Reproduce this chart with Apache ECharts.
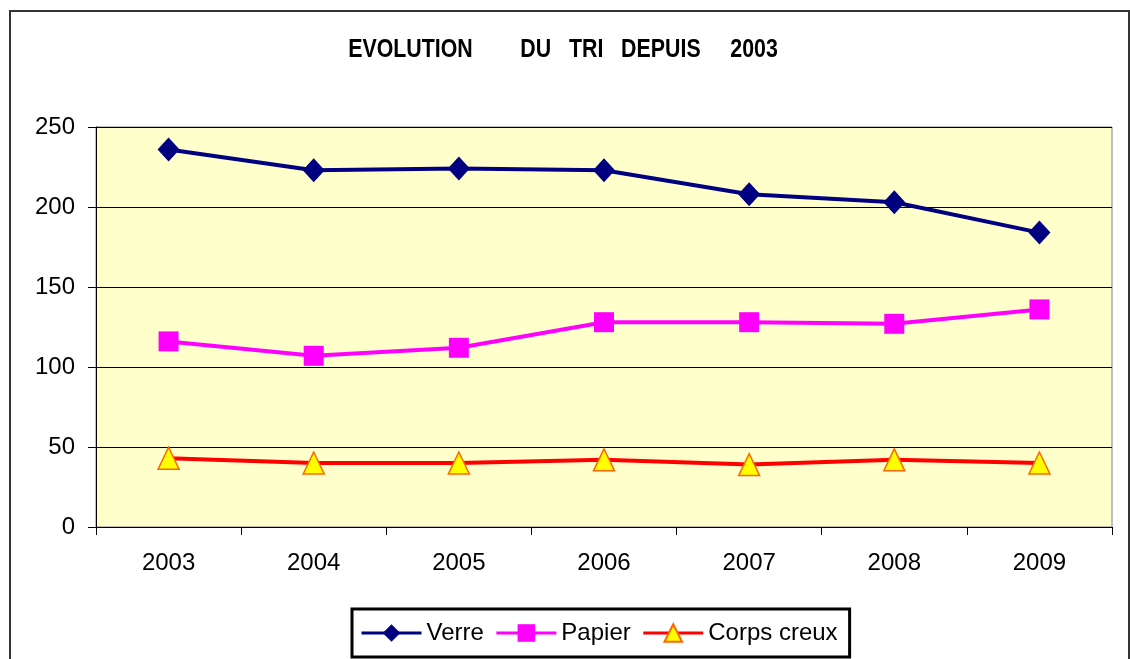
<!DOCTYPE html>
<html>
<head>
<meta charset="utf-8">
<script src="https://cdn.jsdelivr.net/npm/echarts@6/dist/echarts.min.js"></script>
<style>
html, body { margin: 0; padding: 0; background: #fff; }
#chart { width: 1130px; height: 659px; }
</style>
</head>
<body>
<div id="chart"></div>
<script>
var chart = echarts.init(document.getElementById("chart"));

var years = ['2003', '2004', '2005', '2006', '2007', '2008', '2009'];
var verre = [236, 223, 224, 223, 208, 203, 184];
var papier = [116, 107, 112, 128, 128, 127, 136];
var corpsCreux = [43, 40, 40, 42, 39, 42, 40];

var font = 'Liberation Sans, Arial, sans-serif';
var titre = 'EVOLUTION        DU   TRI   DEPUIS     2003';

var option = {
    backgroundColor: '#fff',
    animation: false,
    graphic: [
        {
            // cadre exterieur
            type: 'rect',
            shape: {x: 10, y: 11, width: 1119, height: 700},
            style: {fill: null, stroke: '#333', lineWidth: 2},
            silent: true,
            z: -1
        },
        {
            // titre (police etroite simulee)
            type: 'text',
            x: 563,
            y: 50,
            scaleX: 0.89,
            scaleY: 1.05,
            style: {
                text: titre,
                fontFamily: font,
                fontWeight: 'bold',
                fontSize: 24,
                fill: '#000',
                align: 'center',
                verticalAlign: 'middle'
            }
        }
    ],
    legend: {
        left: 352,
        top: 609,
        padding: [12, 12, 12, 8],
        borderColor: '#000',
        borderWidth: 3,
        itemWidth: 60,
        itemHeight: 22,
        itemGap: 11,
        lineStyle: {width: 3},
        textStyle: {fontFamily: font, fontSize: 24, color: '#000'},
        data: ['Verre', 'Papier', 'Corps creux']
    },
    grid: {
        left: 96,
        top: 127,
        right: 18,
        bottom: 132,
        show: true,
        backgroundColor: '#FFFFCC',
        borderColor: '#808080',
        borderWidth: 1
    },
    xAxis: {
        type: 'category',
        data: years,
        boundaryGap: true,
        axisLine: {lineStyle: {color: '#000', width: 1}},
        axisTick: {show: true, length: 8, lineStyle: {color: '#000'}},
        axisLabel: {fontFamily: font, fontSize: 24, color: '#000', margin: 24},
        splitLine: {show: false}
    },
    yAxis: {
        type: 'value',
        min: 0,
        max: 250,
        interval: 50,
        axisLine: {show: true, lineStyle: {color: '#000', width: 1}},
        axisTick: {show: true, length: 8, lineStyle: {color: '#000'}},
        axisLabel: {fontFamily: font, fontSize: 24, color: '#000', margin: 21},
        splitLine: {lineStyle: {color: '#000', width: 1}}
    },
    series: [
        {
            name: 'Verre',
            type: 'line',
            data: verre,
            symbol: 'diamond',
            symbolSize: [22, 24],
            lineStyle: {color: '#000080', width: 4},
            itemStyle: {color: '#000080'}
        },
        {
            name: 'Papier',
            type: 'line',
            data: papier,
            symbol: 'rect',
            symbolSize: 20,
            lineStyle: {color: '#FF00FF', width: 4},
            itemStyle: {color: '#FF00FF'}
        },
        {
            name: 'Corps creux',
            type: 'line',
            data: corpsCreux,
            symbol: 'triangle',
            symbolSize: [21, 22],
            lineStyle: {color: '#FF0000', width: 4},
            itemStyle: {color: '#FFFF00', borderColor: '#FF6600', borderWidth: 1.5}
        }
    ]
};

chart.setOption(option);
</script>
</body>
</html>
